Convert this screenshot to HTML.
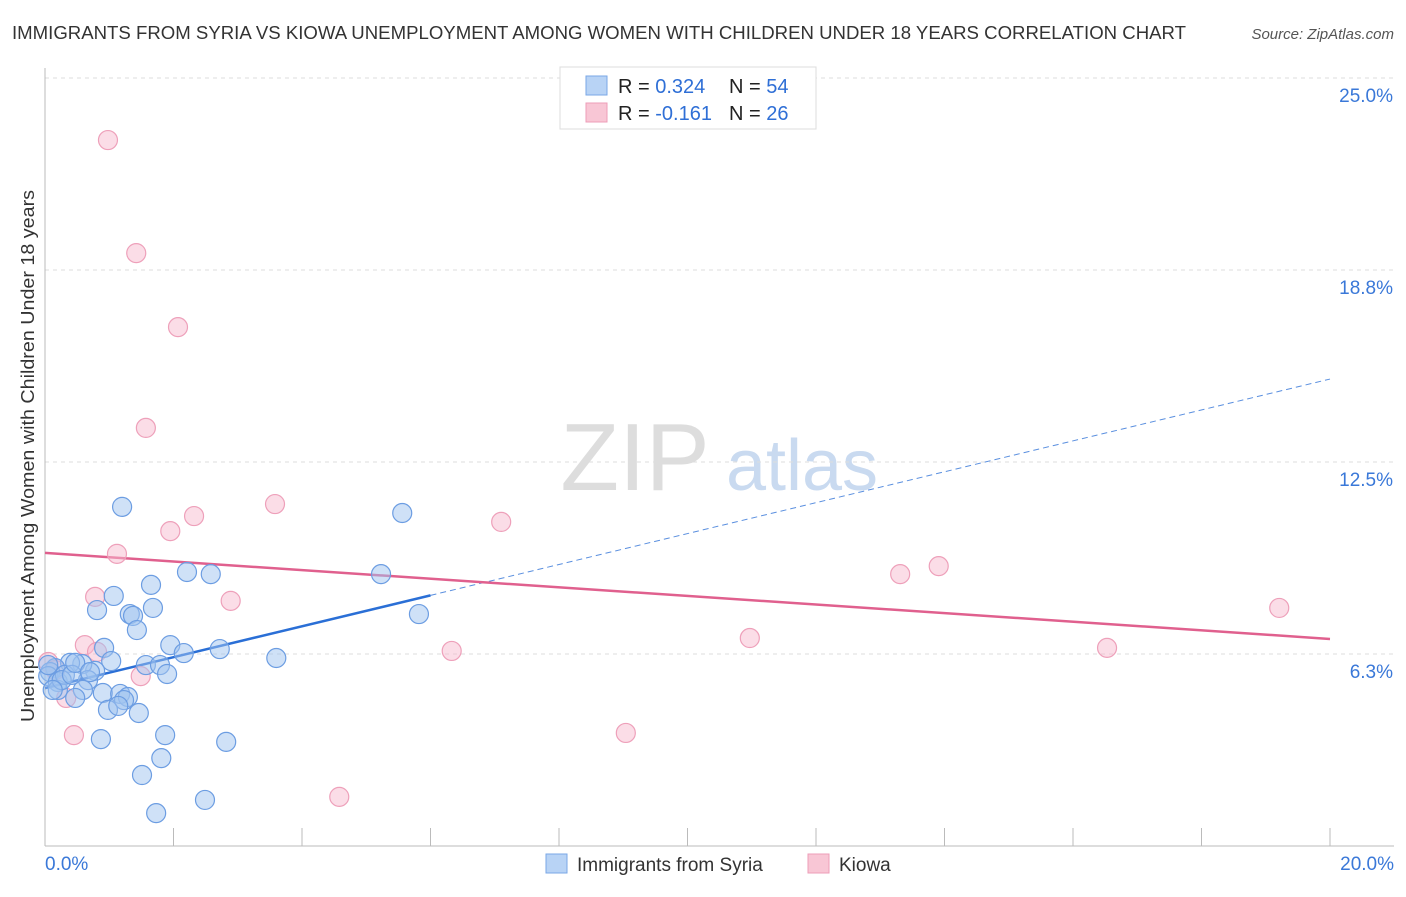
<!DOCTYPE html>
<html><head><meta charset="utf-8"><style>
body{margin:0;background:#fff;font-family:"Liberation Sans",sans-serif;}
svg text{font-family:"Liberation Sans",sans-serif;}
</style></head><body>
<svg width="1406" height="892" viewBox="0 0 1406 892">
<text x="12" y="39" font-size="18" fill="#333" textLength="1174" lengthAdjust="spacingAndGlyphs">IMMIGRANTS FROM SYRIA VS KIOWA UNEMPLOYMENT AMONG WOMEN WITH CHILDREN UNDER 18 YEARS CORRELATION CHART</text>
<text x="1394" y="39" font-size="15" fill="#555" font-style="italic" text-anchor="end">Source: ZipAtlas.com</text>
<g>
<text x="635" y="490" font-size="96" font-family="Liberation Serif,serif" fill="#ddd" text-anchor="middle">ZIP</text>
<text x="802" y="490" font-size="72" fill="#c9daf0" text-anchor="middle">atlas</text>
</g>
<g id="grid"></g>
<g id="axes"></g>
<g id="lines"></g>
<g id="pts"></g>
<text transform="translate(34,456) rotate(-90)" font-size="18" fill="#333" text-anchor="middle" textLength="532" lengthAdjust="spacingAndGlyphs">Unemployment Among Women with Children Under 18 years</text>
<g>
<rect x="560" y="67" width="256" height="62" fill="#fff" stroke="#ddd"/>
<rect x="586" y="76" width="21" height="19" fill="#b8d3f5" stroke="#7aa7e6"/>
<rect x="586" y="103" width="21" height="19" fill="#f8c6d5" stroke="#ee9db8"/>
<text x="618" y="93" font-size="20" fill="#222">R = <tspan fill="#2f6fd6">0.324</tspan><tspan x="729">N = </tspan><tspan fill="#2f6fd6">54</tspan></text>
<text x="618" y="120" font-size="20" fill="#222">R = <tspan fill="#2f6fd6">-0.161</tspan><tspan x="729">N = </tspan><tspan fill="#2f6fd6">26</tspan></text>
</g>
<g>
<rect x="546" y="854" width="21" height="19" fill="#b8d3f5" stroke="#7aa7e6"/>
<text x="577" y="871" font-size="19" fill="#333">Immigrants from Syria</text>
<rect x="808" y="854" width="21" height="19" fill="#f8c6d5" stroke="#ee9db8"/>
<text x="839" y="871" font-size="19" fill="#333">Kiowa</text>
</g>
</svg>
<script>
const yTicks=[6.25,12.5,18.75,25];
const yTickLabels=["6.3%","12.5%","18.8%","25.0%"];
const xTickLabels=["0.0%","20.0%"];
const bluePx=[[122,507],[402,513],[187,572],[211,574],[381,574],[151,585],[114,596],[97,610],[153,608],[130,614],[133,616],[137,630],[419,614],[170,645],[104,648],[184,653],[220,649],[276,658],[111,661],[146,665],[160,665],[167,674],[95,671],[82,664],[70,663],[55,668],[50,672],[48,676],[58,682],[88,680],[83,690],[58,690],[75,698],[103,693],[120,694],[128,697],[124,700],[108,710],[118,706],[139,713],[165,735],[101,739],[226,742],[161,758],[142,775],[205,800],[156,813],[65,675],[62,680],[72,675],[53,690],[75,663],[90,672],[48,665]];
const pinkPx=[[108,140],[136,253],[178,327],[146,428],[275,504],[194,516],[170,531],[501,522],[117,554],[900,574],[939,566],[95,597],[231,601],[1279,608],[750,638],[85,645],[97,652],[1107,648],[452,651],[141,676],[66,698],[74,735],[626,733],[339,797],[48,662],[55,670]];
// data values (x %, y %)
const blueX=bluePx.map(p=>+((p[0]-45)/64.25).toFixed(2));
const blueY=bluePx.map(p=>+((846-p[1])/30.72).toFixed(2));
const pinkX=pinkPx.map(p=>+((p[0]-45)/64.25).toFixed(2));
const pinkY=pinkPx.map(p=>+((846-p[1])/30.72).toFixed(2));
const blueTrend=[5.14,15.2]; const blueSolidEnd=6;
const pinkTrend=[9.54,6.74];
const NS="http://www.w3.org/2000/svg";
const X=v=>45+v*64.25, Y=v=>846-v*30.72;
function mk(t,a,par){const e=document.createElementNS(NS,t);for(const k in a)e.setAttribute(k,a[k]);document.getElementById(par).appendChild(e);return e;}
yTicks.forEach((t,i)=>{
 const g=mk('line',{x1:45,x2:1394,y1:Y(t),y2:Y(t),stroke:'#ddd','stroke-dasharray':'4,4'},'grid');
 
 
 const l=mk('text',{x:1393,y:Y(t)+24,'font-size':19,fill:'#3a78d8','text-anchor':'end'},'grid');
 l.textContent=yTickLabels[i];
 
 
});
const ax=mk('line',{x1:45,x2:45,y1:68,y2:846,stroke:'#bbb'},'axes');


const bx=mk('line',{x1:45,x2:1394,y1:846,y2:846,stroke:'#bbb'},'axes');


for(let i=0;i<=10;i++){const t=mk('line',{x1:X(i*2),x2:X(i*2),y1:828,y2:846,stroke:'#bbb'},'axes');
 
 }
[[0,'start',45],[20,'end',1394]].forEach((d,i)=>{const t=mk('text',{x:d[2],y:870,'font-size':19,fill:'#3a78d8','text-anchor':d[1]},'axes');t.textContent=xTickLabels[i];
 
 });
const bl=v=>blueTrend[0]+(blueTrend[1]-blueTrend[0])*v/20;
let l1=mk('line',{x1:X(0),y1:Y(bl(0)),x2:X(blueSolidEnd),y2:Y(bl(blueSolidEnd)),stroke:'#2a6fd6','stroke-width':2.5},'lines');


let l2=mk('line',{x1:X(blueSolidEnd),y1:Y(bl(blueSolidEnd)),x2:X(20),y2:Y(bl(20)),stroke:'#5a8fdf','stroke-width':1,'stroke-dasharray':'6,4'},'lines');


let l3=mk('line',{x1:X(0),y1:Y(pinkTrend[0]),x2:X(20),y2:Y(pinkTrend[1]),stroke:'#e0608e','stroke-width':2.5},'lines');


pinkX.forEach((x,i)=>{const c=mk('circle',{cx:X(x),cy:Y(pinkY[i]),r:9.5,fill:'rgba(248,187,208,0.5)',stroke:'#eea0ba','stroke-width':1.2},'pts');
 
 });
blueX.forEach((x,i)=>{const c=mk('circle',{cx:X(x),cy:Y(blueY[i]),r:9.5,fill:'rgba(160,196,240,0.5)',stroke:'#6c9de2','stroke-width':1.2},'pts');
 
 });
</script>
</body></html>
